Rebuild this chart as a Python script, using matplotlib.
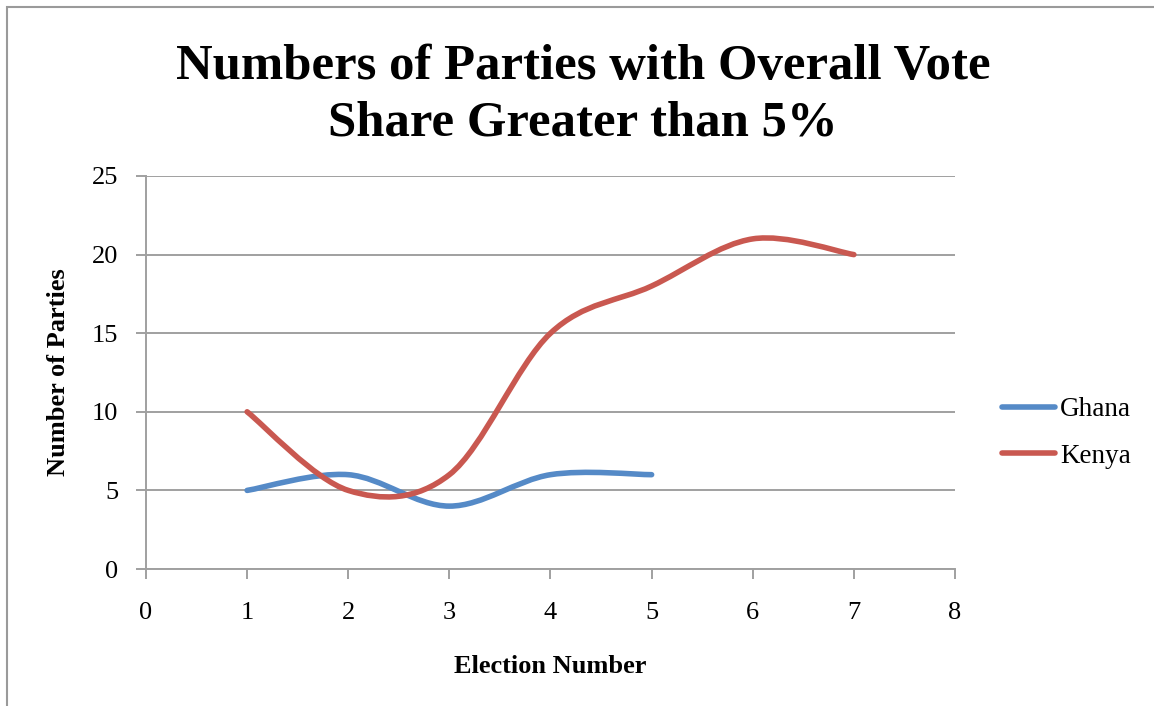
import matplotlib
matplotlib.use("Agg")
import matplotlib.pyplot as plt
from matplotlib.path import Path
from matplotlib.patches import PathPatch
from matplotlib.lines import Line2D
import numpy as np

plt.rcParams['font.family'] = ['Liberation Serif', 'DejaVu Serif']

ghana_x = [1, 2, 3, 4, 5]
ghana_y = [5, 6, 4, 6, 6]
kenya_x = [1, 2, 3, 4, 5, 6, 7]
kenya_y = [10, 5, 6, 15, 18, 21, 20]

x_ticks = [0, 1, 2, 3, 4, 5, 6, 7, 8]
y_ticks = [0, 5, 10, 15, 20, 25]

BLUE = '#558AC7'
RED = '#C95850'
GRID = '#A0A0A0'
LW = 4.0


def smooth_path(xs, ys):
    """Cubic Bezier path through the points (Catmull-Rom style control points)."""
    p = np.column_stack([xs, ys]).astype(float)
    n = len(p)
    verts = [p[0]]
    codes = [Path.MOVETO]
    for i in range(n - 1):
        prev = p[i - 1] if i > 0 else p[i]
        nxt = p[i + 2] if i + 2 < n else p[i + 1]
        c1 = p[i] + (p[i + 1] - prev) / 6.0
        c2 = p[i + 1] - (nxt - p[i]) / 6.0
        verts += [c1, c2, p[i + 1]]
        codes += [Path.CURVE4] * 3
    return Path(verts, codes)


fig = plt.figure(figsize=(11.54, 7.06), dpi=100)

# outer chart frame (only the left and top edges fall inside the canvas)
frame = plt.Rectangle((7 / 1154, -0.1), 1.2, 1.1 - 7 / 706,
                      transform=fig.transFigure, fill=False,
                      edgecolor='#9A9A9A', linewidth=1.5)
fig.add_artist(frame)

ax = fig.add_axes([146 / 1154, 1 - 569 / 706, (955 - 146) / 1154, (569 - 176) / 706])
ax.set_xlim(0, 8)
ax.set_ylim(0, 25)
ax.set_xticks(x_ticks)
ax.set_yticks(y_ticks)
ax.tick_params(axis='both', labelsize=19, color=GRID, length=7, width=1.4,
               direction='out')
ax.tick_params(axis='x', pad=17)
ax.tick_params(axis='y', pad=13)
for s in ['top', 'right']:
    ax.spines[s].set_visible(False)
for s in ['left', 'bottom']:
    ax.spines[s].set_color(GRID)
    ax.spines[s].set_linewidth(1.4)
ax.grid(axis='y', color=GRID, linewidth=1.4)
ax.set_axisbelow(True)

for xs, ys, col in [(ghana_x, ghana_y, BLUE), (kenya_x, kenya_y, RED)]:
    patch = PathPatch(smooth_path(xs, ys), facecolor='none', edgecolor=col,
                      linewidth=LW, capstyle='round', joinstyle='round', zorder=3)
    ax.add_patch(patch)

ax.set_xlabel('Election Number', fontsize=19, fontweight='bold', labelpad=22)
ax.set_ylabel('Number of Parties', fontsize=19, fontweight='bold', labelpad=16)

fig.text(583 / 1154, 1 - 95 / 706, 'Numbers of Parties with Overall Vote\nShare Greater than 5%',
         ha='center', va='center', fontsize=36.5, fontweight='bold', linespacing=1.31)

handles = [Line2D([], [], color=BLUE, linewidth=LW, solid_capstyle='round'),
           Line2D([], [], color=RED, linewidth=LW, solid_capstyle='round')]
fig.legend(handles, ['Ghana', 'Kenya'], loc='center left',
           bbox_to_anchor=(994 / 1154, 1 - 433 / 706), frameon=False,
           fontsize=19.5, handlelength=1.95, handletextpad=0.2, labelspacing=0.78,
           borderaxespad=0, borderpad=0.3)

fig.savefig('out.png', dpi=100)
